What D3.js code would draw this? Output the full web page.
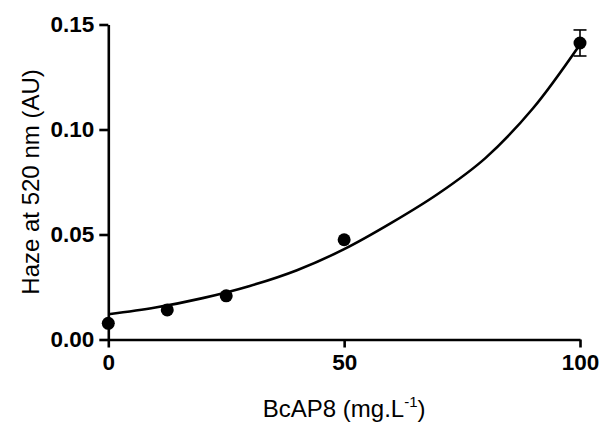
<!DOCTYPE html>
<html>
<head>
<meta charset="utf-8">
<script src="https://cdn.jsdelivr.net/npm/d3@7"></script>
<style>
  body { margin: 0; background: #fff; }
  svg { display: block; }
</style>
</head>
<body>
<div id="chart"></div>
<script>
// measured data: concentration (mg/L), haze (AU), SEM
const conc = [0, 12.5, 25, 50, 100];
const haze = [0.0077, 0.0141, 0.0208, 0.0475, 0.1412];
const sem = [0.001, 0.001, 0.0012, 0.0015, 0.0062];

// fitted curve
const fitX = [0, 10, 20, 30, 40, 50, 60, 70, 80, 90, 100];
const fitY = [0.0120, 0.0152, 0.0197, 0.0255, 0.0330, 0.0430, 0.0555, 0.0695, 0.0865, 0.1100, 0.1405];

const xTicks = [0, 50, 100];
const yTicks = [0, 0.05, 0.10, 0.15];

const width = 604, height = 428;
const margin = {left: 108.3, right: 24, top: 24.5, bottom: 88.5};
const radius = 6.5;

const svg = d3.select('#chart').append('svg')
    .attr('width', width)
    .attr('height', height);

const x = d3.scaleLinear().domain([0, 100]).range([margin.left, width - margin.right]);
const y = d3.scaleLinear().domain([0, 0.15]).range([height - margin.bottom, margin.top]);

function styleAxis(g) {
    g.selectAll('path.domain').attr('stroke', '#000').attr('stroke-width', 2.6);
    g.selectAll('.tick line').attr('stroke', '#000').attr('stroke-width', 2.6);
    g.selectAll('.tick text')
        .attr('fill', '#000')
        .attr('font-family', '"Liberation Sans", Arial, sans-serif')
        .attr('font-weight', 'bold')
        .attr('font-size', 22.5);
}

// x axis
const xAxis = svg.append('g')
    .attr('transform', `translate(0,${y(0)})`)
    .call(d3.axisBottom(x).tickValues(xTicks).tickSize(8).tickSizeOuter(0).tickPadding(7).tickFormat(d3.format('d')));
styleAxis(xAxis);

// y axis
const yAxis = svg.append('g')
    .attr('transform', `translate(${x(0)},0)`)
    .call(d3.axisLeft(y).tickValues(yTicks).tickSize(9).tickSizeOuter(0).tickPadding(5).tickFormat(d3.format('.2f')));
styleAxis(yAxis);

// fitted curve
const line = d3.line()
    .x((d, i) => x(fitX[i]))
    .y(d => y(d))
    .curve(d3.curveCatmullRom);

svg.append('path')
    .datum(fitY)
    .attr('d', line)
    .attr('fill', 'none')
    .attr('stroke', '#000')
    .attr('stroke-width', 2.6);

// error bars (hidden when shorter than the symbol, like Prism)
const pts = conc.map((c, i) => ({x: c, y: haze[i], e: sem[i]}));
const capW = 6.5;
const eb = svg.append('g').attr('stroke', '#000').attr('stroke-width', 1.6);
pts.filter(d => y(d.y - d.e) - y(d.y) > radius).forEach(d => {
    eb.append('line')
        .attr('x1', x(d.x)).attr('x2', x(d.x))
        .attr('y1', y(d.y - d.e)).attr('y2', y(d.y + d.e));
    [d.y - d.e, d.y + d.e].forEach(v => {
        eb.append('line')
            .attr('x1', x(d.x) - capW).attr('x2', x(d.x) + capW)
            .attr('y1', y(v)).attr('y2', y(v));
    });
});

// points
svg.append('g').selectAll('circle')
    .data(pts)
    .enter()
    .append('circle')
    .attr('cx', d => x(d.x))
    .attr('cy', d => y(d.y))
    .attr('r', radius)
    .attr('fill', '#000');

// axis titles
svg.append('text')
    .attr('x', (x(0) + x(100)) / 2)
    .attr('y', 417)
    .attr('text-anchor', 'middle')
    .attr('font-family', '"Liberation Sans", Arial, sans-serif')
    .attr('font-size', 24)
    .attr('fill', '#000')
    .call(t => {
        t.append('tspan').text('BcAP8 (mg.L');
        t.append('tspan').attr('font-size', 15).attr('dy', -10).text('-1');
        t.append('tspan').attr('dy', 10).text(')');
    });

svg.append('text')
    .attr('transform', `translate(39,${(y(0) + y(0.15)) / 2}) rotate(-90)`)
    .attr('text-anchor', 'middle')
    .attr('font-family', '"Liberation Sans", Arial, sans-serif')
    .attr('font-size', 24)
    .attr('fill', '#000')
    .text('Haze at 520 nm (AU)');
</script>
</body>
</html>
